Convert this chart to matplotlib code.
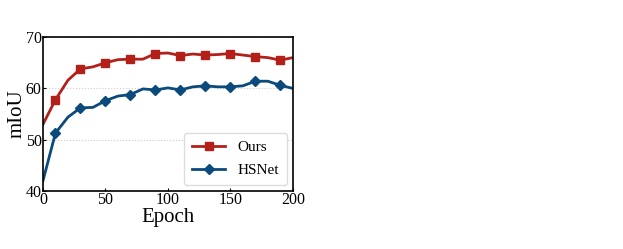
import matplotlib
matplotlib.use("Agg")
import matplotlib.pyplot as plt

epochs = [0, 10, 20, 30, 40, 50, 60, 70, 80, 90, 100, 110, 120, 130, 140, 150, 160, 170, 180, 190, 200]
ours = [53.0, 57.8, 61.6, 63.8, 64.2, 65.0, 65.6, 65.7, 65.7, 66.8, 66.9, 66.4, 66.7, 66.5, 66.6, 66.8, 66.5, 66.2, 66.0, 65.5, 66.0]
hsnet = [42.0, 51.3, 54.4, 56.2, 56.3, 57.6, 58.5, 58.8, 59.9, 59.7, 60.1, 59.7, 60.3, 60.5, 60.3, 60.3, 60.5, 61.4, 61.4, 60.6, 60.0]
xticks = [0, 50, 100, 150, 200]
yticks = [40, 50, 60, 70]

plt.rcParams['font.family'] = ['Liberation Serif', 'DejaVu Serif']

fig = plt.figure(figsize=(6.23, 2.49), dpi=100)
ax = fig.add_axes([0.069, 0.233, 0.401, 0.618])

red = '#b3201a'
blue = '#0b4a7c'
ax.plot(epochs, ours, color=red, lw=2, marker='s', markersize=6, markevery=slice(1, None, 2), label='Ours')
ax.plot(epochs, hsnet, color=blue, lw=2, marker='D', markersize=5.5, markevery=slice(1, None, 2), label='HSNet')

ax.set_xlim(0, 200)
ax.set_ylim(40, 70)
ax.set_xticks(xticks)
ax.set_yticks(yticks)
ax.grid(axis='y', color='#cccccc', linestyle=':', linewidth=0.8)
ax.tick_params(direction='in', length=2, pad=1, labelsize=11.5)
for s in ax.spines.values():
    s.set_linewidth(1.2)
ax.set_xlabel('Epoch', fontsize=15, labelpad=0)
ax.set_ylabel('mIoU', fontsize=15, labelpad=-1)
ax.legend(loc='lower right', fontsize=11, handlelength=2.2, borderpad=0.5, labelspacing=0.6,
          borderaxespad=0.4, framealpha=1, edgecolor='#dddddd')

fig.savefig('out.png', dpi=100)
